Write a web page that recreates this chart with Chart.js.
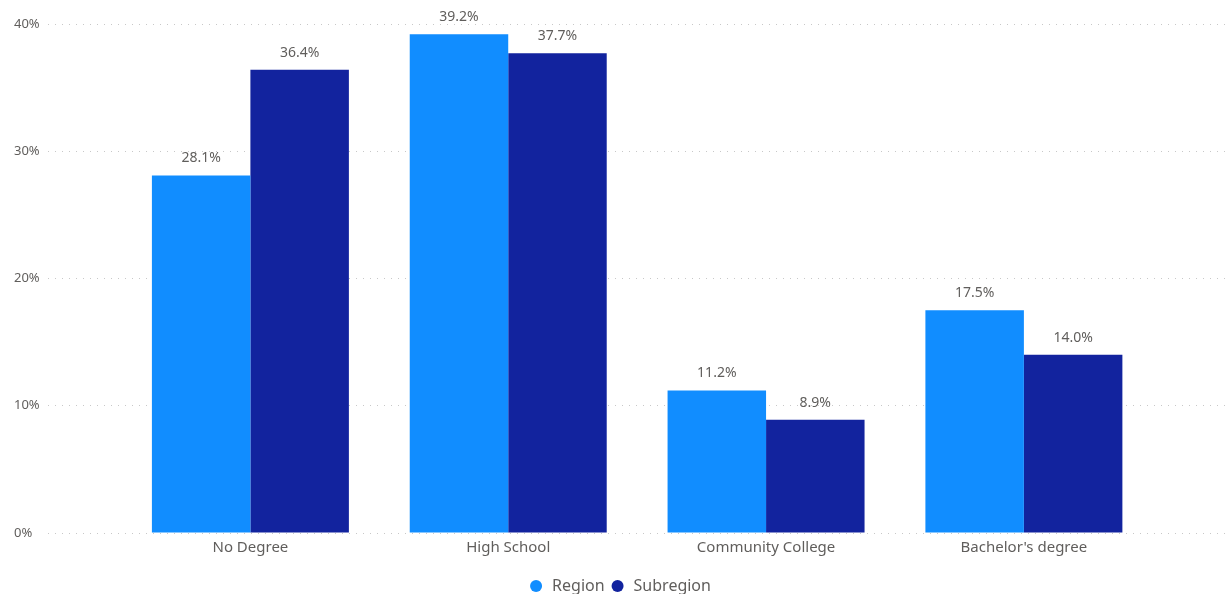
<!DOCTYPE html>
<html>
<head>
<meta charset="utf-8">
<script src="https://cdn.jsdelivr.net/npm/chart.js@4.4.1/dist/chart.umd.min.js"></script>
<style>
html,body{margin:0;padding:0;background:#fff;}
#wrap{width:1225px;height:594px;position:relative;}
</style>
</head>
<body>
<div id="wrap"><canvas id="c" width="1225" height="594"></canvas></div>
<script>
const categories = ["No Degree", "High School", "Community College", "Bachelor's degree"];
const regionValues = [28.1, 39.2, 11.2, 17.5];
const subregionValues = [36.4, 37.7, 8.9, 14.0];
const yTicks = [0, 10, 20, 30, 40];
const seriesNames = ["Region", "Subregion"];
const seriesColors = ["#118DFF", "#12239E"];

const FONT = "'Segoe UI', 'Noto Sans', 'Open Sans', sans-serif";

const toPoints = arr => arr.map((v, i) => ({x: i, y: v}));

const valueLabels = {
  id: 'valueLabels',
  afterDatasetsDraw(chart) {
    const ctx = chart.ctx;
    ctx.save();
    ctx.font = "14px " + FONT;
    ctx.fillStyle = "#605E5C";
    ctx.textAlign = "center";
    ctx.textBaseline = "middle";
    chart.data.datasets.forEach((ds, di) => {
      const meta = chart.getDatasetMeta(di);
      meta.data.forEach((el, i) => {
        ctx.fillText(ds.data[i].y.toFixed(1) + "%", el.x, el.y - 17);
      });
    });
    ctx.restore();
  }
};

new Chart(document.getElementById('c'), {
  type: 'bar',
  data: {
    datasets: [
      {label: seriesNames[0], data: toPoints(regionValues), backgroundColor: seriesColors[0], borderWidth: 0},
      {label: seriesNames[1], data: toPoints(subregionValues), backgroundColor: seriesColors[1], borderWidth: 0}
    ]
  },
  options: {
    responsive: false,
    animation: false,
    devicePixelRatio: 1,
    layout: {padding: {left: 14, right: 0, top: 24, bottom: -10}},
    categoryPercentage: 0.764,
    barPercentage: 1.0,
    plugins: {
      tooltip: {enabled: false},
      legend: {
        position: 'bottom',
        labels: {
          usePointStyle: true,
          pointStyle: 'circle',
          boxHeight: 8.5,
          padding: 5,
          color: '#605E5C',
          font: {family: FONT, size: 16}
        }
      }
    },
    scales: {
      x: {
        type: 'linear',
        offset: false,
        min: -0.785,
        max: 3.78,
        grid: {display: false, drawTicks: false},
        border: {display: false},
        afterBuildTicks: s => { s.ticks = categories.map((_, i) => ({value: i})); },
        afterFit: s => { s.height = 40; },
        ticks: {
          color: '#605E5C',
          font: {family: FONT, size: 15},
          padding: 6,
          autoSkip: false,
          maxRotation: 0,
          callback: v => categories[v]
        }
      },
      y: {
        min: 0,
        max: 40,
        afterBuildTicks: s => { s.ticks = yTicks.map(v => ({value: v})); },
        afterFit: s => { s.width = 34; },
        border: {display: false, dash: [1, 6]},
        grid: {
          color: '#C8C8C8',
          lineWidth: 1,
          drawTicks: false
        },
        ticks: {
          color: '#605E5C',
          font: {family: FONT, size: 13},
          crossAlign: 'far',
          padding: 0,
          callback: v => v + '%'
        }
      }
    }
  },
  plugins: [valueLabels]
});
</script>
</body>
</html>
